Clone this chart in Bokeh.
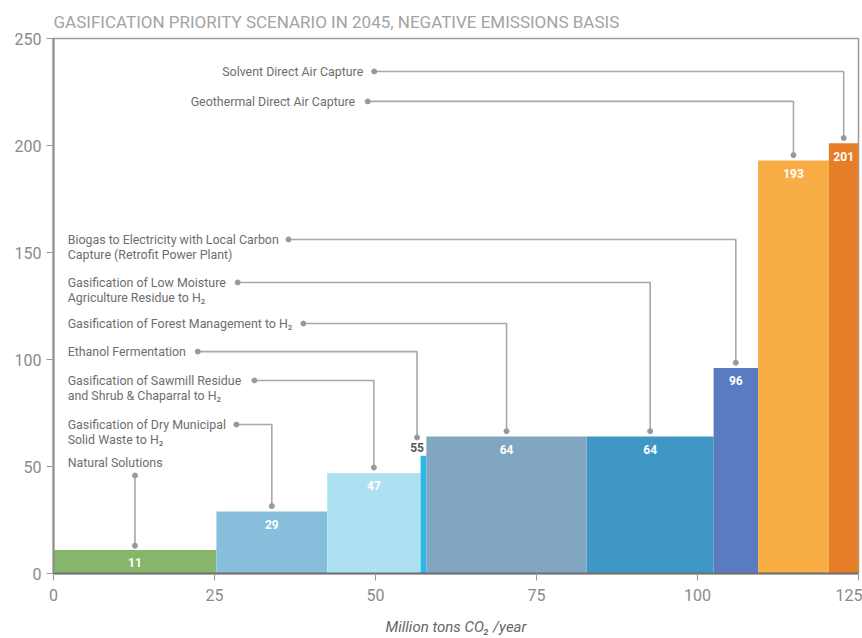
from bokeh.plotting import figure
from bokeh.models import Range1d, FixedTicker, Title, ColumnDataSource
from bokeh.core.properties import value
from bokeh.embed import file_html
from bokeh.resources import INLINE

# Negative-emissions pathways, in order of increasing cost
pathways = [
    "Natural Solutions",
    "Gasification of Dry Municipal Solid Waste to H₂",
    "Gasification of Sawmill Residue and Shrub & Chaparral to H₂",
    "Ethanol Fermentation",
    "Gasification of Forest Management to H₂",
    "Gasification of Low Moisture Agriculture Residue to H₂",
    "Biogas to Electricity with Local Carbon Capture (Retrofit Power Plant)",
    "Geothermal Direct Air Capture",
    "Solvent Direct Air Capture",
]
# Removal volume (million tons CO2 / year) = bar width
volumes = [25.3, 17.2, 14.5, 0.9, 24.9, 19.7, 6.9, 11.0, 4.6]
# Cost ($/ton) = bar height
costs = [11, 29, 47, 55, 64, 64, 96, 193, 201]
colors = ["#85b669", "#87bedb", "#ade1f1", "#2db6e6", "#80a6c1",
          "#3f97c6", "#5a7bc0", "#f8ae44", "#e67d27"]

x_ticks = [0, 25, 50, 75, 100, 125]
y_ticks = [0, 50, 100, 150, 200, 250]

FONT = "Roboto, sans-serif"

lefts, rights = [], []
acc = 0.0
for w in volumes:
    lefts.append(acc)
    acc += w
    rights.append(acc)
centers = [(l + r) / 2 for l, r in zip(lefts, rights)]

p = figure(width=862, height=638, output_backend="svg", toolbar_location=None,
           x_range=Range1d(0, 125), y_range=Range1d(0, 250),
           min_border_left=53, min_border_right=4, min_border_top=38,
           min_border_bottom=65)
p.xgrid.visible = False
p.ygrid.visible = False
p.outline_line_color = "#9c9c9c"
p.outline_line_width = 1.5
p.background_fill_color = "white"

p.add_layout(Title(text="GASIFICATION PRIORITY SCENARIO IN 2045, NEGATIVE EMISSIONS BASIS",
                   align="left", text_font=FONT, text_font_size="17px",
                   text_font_style="normal", text_color="#a3a3a3", standoff=13), "above")

bars = ColumnDataSource(dict(left=lefts, right=rights, top=costs, color=colors))
p.quad(left="left", right="right", bottom=0, top="top", fill_color="color",
       line_color=None, source=bars)

# axes
for ax in (p.xaxis[0], p.yaxis[0]):
    ax.major_label_text_font = FONT
    ax.major_label_text_font_size = "16px"
    ax.major_label_text_color = "#8a8a8a"
    ax.major_tick_in = 0
    ax.major_tick_out = 7
    ax.major_tick_line_color = "#9a9a9a"
    ax.minor_tick_line_color = None
p.yaxis.ticker = FixedTicker(ticks=y_ticks)
p.xaxis.ticker = FixedTicker(ticks=x_ticks)
p.yaxis.axis_line_color = "#8c8c8c"
p.yaxis.axis_line_width = 2
p.xaxis.axis_line_color = "#6e6e6e"
p.xaxis.axis_line_width = 2
p.yaxis.major_label_standoff = 5
p.xaxis.major_label_standoff = 8
p.xaxis.axis_label = "Million tons CO₂ /year"
p.xaxis.axis_label_text_font = FONT
p.xaxis.axis_label_text_font_size = "15px"
p.xaxis.axis_label_text_font_style = "italic"
p.xaxis.axis_label_text_color = "#666666"
p.xaxis.axis_label_standoff = 14

# value labels inside bars (Ethanol's thin bar gets its label above)
in_idx = [i for i in range(len(costs)) if i != 3]
p.text(x=[centers[i] for i in in_idx], y=[costs[i] - 6 for i in in_idx],
       text=[str(costs[i]) for i in in_idx], text_align="center",
       text_baseline="middle", text_color="white", text_font=value(FONT),
       text_font_size="12px", text_font_style="bold")

# callouts: text lines, text left x, first-line y, leader start x, leader x shift
callouts = [
    (["Solvent Direct Air Capture"], 26.2, 234.6, 49.8, 0.0),
    (["Geothermal Direct Air Capture"], 21.3, 220.6, 48.8, 0.0),
    (["Biogas to Electricity with Local Carbon", "Capture (Retrofit Power Plant)"], 2.2, 156.1, 36.5, 0.0),
    (["Gasification of Low Moisture", "Agriculture Residue to H₂"], 2.2, 136.0, 28.6, 0.0),
    (["Gasification of Forest Management to H₂"], 2.2, 116.8, 38.8, 0.0),
    (["Ethanol Fermentation"], 2.2, 103.7, 22.4, -1.0),
    (["Gasification of Sawmill Residue", "and Shrub & Chaparral to H₂"], 2.2, 90.2, 31.2, 0.0),
    (["Gasification of Dry Municipal", "Solid Waste to H₂"], 2.2, 69.6, 28.4, 0.0),
]
bar_of = [8, 7, 6, 5, 4, 3, 2, 1]

tx, ty, tt = [], [], []
xs, ys = [], []
dx, dy = [], []
for (lines, lx, ly, sx, shift), bi in zip(callouts, bar_of):
    for k, line in enumerate(lines):
        tx.append(lx)
        ty.append(ly - k * 7.0)
        tt.append(line)
    bx = centers[bi] + shift
    end_y = costs[bi] + (8.6 if bi == 3 else 2.5)
    xs.append([sx, bx, bx])
    ys.append([ly, ly, end_y])
    dx += [sx, bx]
    dy += [ly, end_y]

# Natural Solutions: label with a vertical leader straight down
tx.append(2.2)
ty.append(51.9)
tt.append("Natural Solutions")
xs.append([centers[0], centers[0]])
ys.append([45.8, costs[0] + 2.0])
dx += [centers[0], centers[0]]
dy += [45.8, costs[0] + 2.0]

p.multi_line(xs=xs, ys=ys, line_color="#a8a8a8", line_width=1.6)
p.scatter(x=dx, y=dy, size=5, color="#999999")
p.text(x=tx, y=ty, text=tt, text_align="left", text_baseline="middle",
       text_color="#6e6e6e", text_font=value(FONT), text_font_size="12.4px")

# Ethanol value above its thin bar
p.text(x=[centers[3] - 1.0], y=[costs[3] + 4.0], text=[str(costs[3])],
       text_align="center", text_baseline="middle", text_color="#555555",
       text_font=value(FONT), text_font_size="12px", text_font_style="bold")

open("out.html", "w").write(file_html(p, INLINE))
